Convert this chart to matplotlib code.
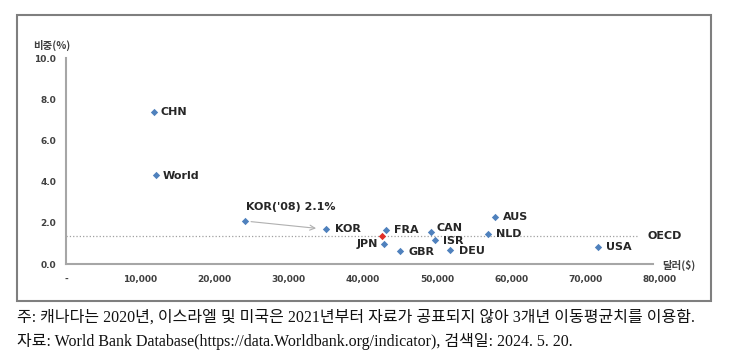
import matplotlib
matplotlib.use("Agg")
import matplotlib.pyplot as plt
from matplotlib.patches import Rectangle

# GDP per capita (US$) vs share (%)
countries = ["CHN", "World", "KOR('08) 2.1%", "KOR", "FRA", "JPN", "GBR",
             "CAN", "ISR", "DEU", "NLD", "AUS", "USA"]
gdp = [11800, 12100, 24050, 35050, 43050, 42800, 45000,
       49150, 49650, 51750, 56800, 57750, 71600]
share = [7.4, 4.32, 2.1, 1.7, 1.66, 0.98, 0.65,
         1.53, 1.17, 0.68, 1.47, 2.28, 0.83]
oecd_gdp = 42500
oecd_share = 1.37

xticks = [0, 10000, 20000, 30000, 40000, 50000, 60000, 70000, 80000]
xtick_labels = ["-", "10,000", "20,000", "30,000", "40,000", "50,000",
                "60,000", "70,000", "80,000"]
yticks = [0, 2, 4, 6, 8, 10]

# label offsets in points (dx, dy, ha)
offsets = {
    "CHN": (5, 0, "left"), "World": (5, -1, "left"),
    "KOR('08) 2.1%": (1, 6, "left"), "KOR": (6, 0, "left"),
    "FRA": (6, 0, "left"), "JPN": (-4, 0, "right"), "GBR": (6, -1, "left"),
    "CAN": (4, 3, "left"), "ISR": (6, -1, "left"), "DEU": (6, -1, "left"),
    "NLD": (6, 0, "left"), "AUS": (6, 0, "left"), "USA": (6, 0, "left"),
}

blue = "#4F81BD"
txt = "#262626"

fig = plt.figure(figsize=(7.37, 3.62), dpi=100)
W, H = 737, 362

# outer frame
fig.patches.append(Rectangle((17 / W, 1 - 301 / H), (711 - 17) / W, (301 - 15) / H,
                             transform=fig.transFigure, fill=False,
                             edgecolor="#7F7F7F", linewidth=1.5))

ax = fig.add_axes([66 / W, 1 - 264 / H, (660 - 66) / W, (264 - 58) / H])
ax.set_xlim(0, 80000)
ax.set_ylim(0, 10)
for s in ["top", "right"]:
    ax.spines[s].set_visible(False)
for s in ["left", "bottom"]:
    ax.spines[s].set_color("#A6A6A6")
    ax.spines[s].set_linewidth(1.5)
ax.spines["bottom"].set_bounds(0, 79000)

ax.set_xticks(xticks)
ax.set_xticklabels(xtick_labels)
ax.set_yticks(yticks)
ax.set_yticklabels([f"{v:.1f}" for v in yticks])
ax.tick_params(length=0, labelsize=6.5, labelcolor="#404040")
ax.tick_params(axis="x", pad=8)
ax.tick_params(axis="y", pad=7)
for lab in ax.get_xticklabels() + ax.get_yticklabels():
    lab.set_fontweight("bold")

# OECD average line
ax.plot([0, 77000], [oecd_share, oecd_share], color="#A0A0A0", linestyle=":",
        linewidth=0.9, zorder=1)
ax.text(78300, oecd_share, "OECD", fontsize=8, fontweight="bold", color=txt,
        va="center", ha="left", clip_on=False)

ax.scatter(gdp, share, marker="D", s=14, color=blue, zorder=3, linewidths=0)
ax.scatter([oecd_gdp], [oecd_share], marker="D", s=14, color="#E0302A",
           zorder=4, linewidths=0)

for name, x, y in zip(countries, gdp, share):
    dx, dy, ha = offsets[name]
    ax.annotate(name, (x, y), xytext=(dx, dy), textcoords="offset points",
                fontsize=8, fontweight="bold", color=txt, ha=ha,
                va="bottom" if name.startswith("KOR(") else "center")

# arrow from KOR('08) to KOR
i08 = countries.index("KOR('08) 2.1%")
ik = countries.index("KOR")
ax.annotate("", xy=(gdp[ik] - 1000, share[ik] + 0.02),
            xytext=(gdp[i08] + 500, share[i08] - 0.03),
            arrowprops=dict(arrowstyle="->", color="#B0B0B0", lw=0.8,
                            mutation_scale=9))

kfont = ["Noto Sans CJK KR", "DejaVu Sans"]
fig.text(52 / W, 1 - 45 / H, "비중(%)", fontsize=7.5, fontweight="bold",
         color="#404040", ha="center", va="center", family=kfont)
fig.text(662 / W, 1 - 265 / H, "달러($)", fontsize=7.5, fontweight="bold",
         color="#404040", ha="left", va="center", family=kfont)

nfont = ["Liberation Serif", "Noto Sans CJK KR"]
fig.text(17 / W, 1 - 318 / H,
         "주: 캐나다는 2020년, 이스라엘 및 미국은 2021년부터 자료가 공표되지 않아 3개년 이동평균치를 이용함.",
         fontsize=11.5, color="#111111", ha="left", va="center", family=nfont)
fig.text(17 / W, 1 - 342 / H,
         "자료: World Bank Database(https://data.Worldbank.org/indicator), 검색일: 2024. 5. 20.",
         fontsize=11.5, color="#111111", ha="left", va="center", family=nfont)

fig.savefig("out.png", dpi=100)
